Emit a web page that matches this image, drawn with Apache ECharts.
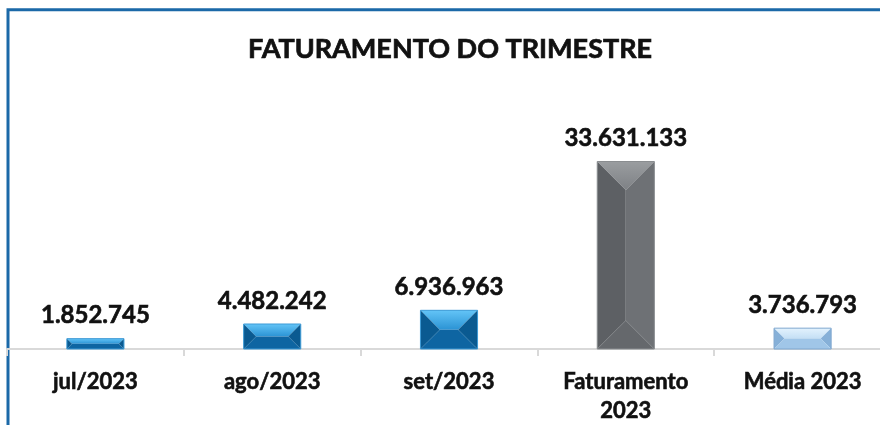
<!DOCTYPE html>
<html>
<head>
<meta charset="utf-8">
<script src="https://cdn.jsdelivr.net/npm/echarts@6/dist/echarts.min.js"></script>
<style>
  html, body { margin: 0; padding: 0; background: #fff; overflow: hidden; }
  #chart { width: 900px; height: 425px; }
</style>
</head>
<body>
<div id="chart"></div>
<script>
const categories = ['jul/2023', 'ago/2023', 'set/2023', 'Faturamento\n2023', 'Média 2023'];
const values = [1852745, 4482242, 6936963, 33631133, 3736793];

// face colours per bar: top, left, right, bottom, edge
const blue = {top: ['#63C4F7', '#2B93D4'], left: '#0A5A91', right: '#0A5A91', bottom: '#0E65A2', edge: '#3C9AD6'};
const gray = {top: ['#9A9DA0', '#7E8185'], left: '#5D6064', right: '#6E7175', bottom: '#65686C', edge: '#8A8D90'};
const light = {top: ['#E3F2FD', '#C4DFF5'], left: '#86B0D8', right: '#86B0D8', bottom: '#A0C6E8', edge: '#7FA7CF'};
const palette = [blue, blue, blue, gray, light];

const font = 'Lato, "Noto Sans", sans-serif';
const ink = '#111';

const fmt = v => String(v).replace(/\B(?=(\d{3})+(?!\d))/g, '.');

function renderBar(params, api) {
  const idx = api.value(0);
  const base = api.coord([idx, 0]);
  const top = api.coord([idx, api.value(1)]);
  const w = api.size([1, 0])[0] * 0.323;
  const x0 = base[0] - w / 2, x1 = base[0] + w / 2;
  const y0 = top[1], y1 = base[1];
  const h = y1 - y0;
  const d = Math.min(w, h) / 2;
  const c = palette[idx];
  const poly = (points, fill) => ({type: 'polygon', shape: {points}, style: {fill}});
  return {
    type: 'group',
    children: [
      poly([[x0, y0], [x1, y0], [x1 - d, y0 + d], [x0 + d, y0 + d]], new echarts.graphic.LinearGradient(0, 0, 0, 1, [
        {offset: 0, color: c.top[0]}, {offset: 1, color: c.top[1]}])),
      poly([[x0, y0], [x0 + d, y0 + d], [x0 + d, y1 - d], [x0, y1]], c.left),
      poly([[x1, y0], [x1 - d, y0 + d], [x1 - d, y1 - d], [x1, y1]], c.right),
      poly([[x0, y1], [x1, y1], [x1 - d, y1 - d], [x0 + d, y1 - d]], c.bottom),
      {type: 'rect', shape: {x: x0, y: y0, width: w, height: h},
        style: {fill: 'none', stroke: c.edge, lineWidth: 1}},
      {type: 'text', style: {
        text: fmt(api.value(1)), x: base[0], y: y0 - 11,
        align: 'center', verticalAlign: 'bottom',
        font: 'bold 24px ' + font, fill: ink, stroke: ink, lineWidth: 0.6
      }}
    ]
  };
}

const chart = echarts.init(document.getElementById('chart'), null, {renderer: 'canvas'});
chart.setOption({
  animation: false,
  title: {
    text: 'FATURAMENTO DO TRIMESTRE',
    left: 'center',
    top: 31,
    textStyle: {fontFamily: font, fontWeight: 'bold', fontSize: 27, color: ink,
      textBorderColor: ink, textBorderWidth: 0.7}
  },
  graphic: [{
    type: 'rect', silent: true,
    shape: {x: 8, y: 9.7, width: 950, height: 500},
    style: {fill: 'none', stroke: '#1B69A8', lineWidth: 3}
  }],
  grid: {left: 7, width: 884, top: 126, bottom: 75},
  xAxis: {
    type: 'category',
    data: categories,
    axisLine: {lineStyle: {color: '#D9D9D9', width: 2}},
    axisTick: {show: true, length: 7, lineStyle: {color: '#D9D9D9', width: 2}},
    axisLabel: {
      color: ink, fontFamily: font, fontWeight: 'bold', fontSize: 22,
      textBorderColor: ink, textBorderWidth: 0.6,
      lineHeight: 29, margin: 18, interval: 0
    }
  },
  yAxis: {type: 'value', show: false, min: 0, max: 40000000},
  series: [{
    type: 'custom',
    renderItem: renderBar,
    data: values.map((v, i) => [i, v]),
    encode: {x: 0, y: 1}
  }]
});
</script>
</body>
</html>
